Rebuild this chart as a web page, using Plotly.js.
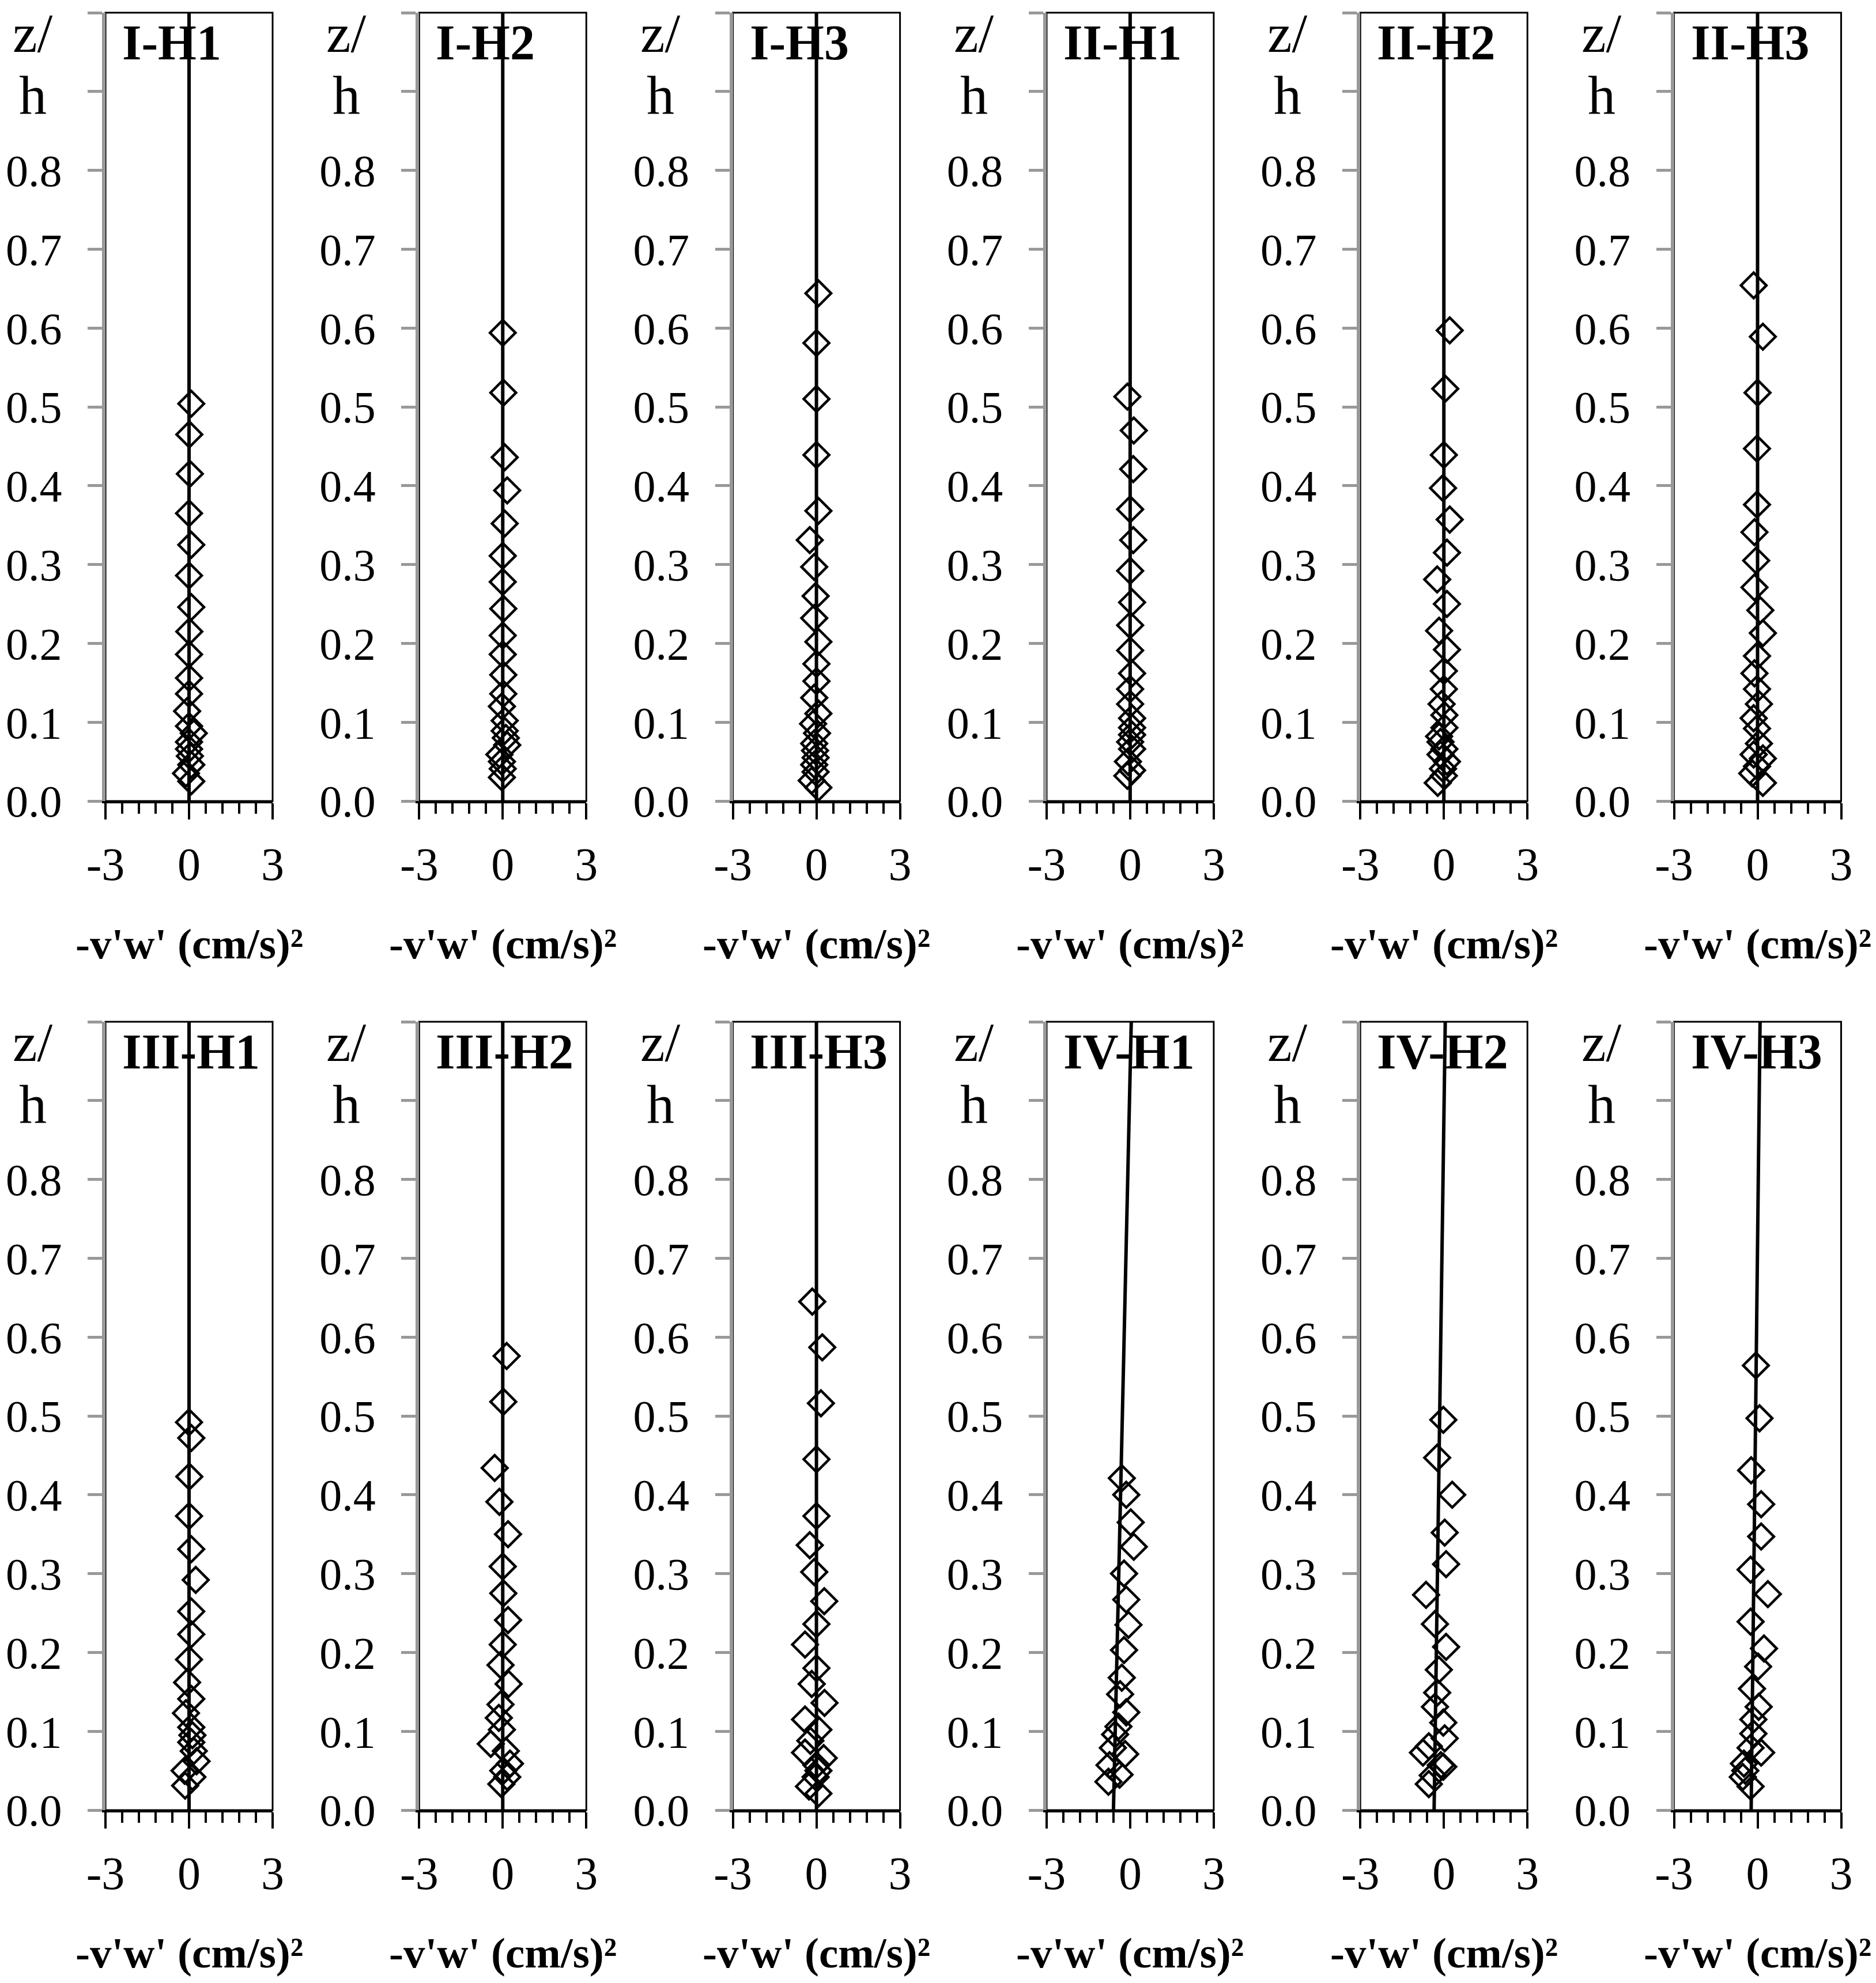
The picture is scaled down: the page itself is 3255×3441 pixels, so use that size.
<!DOCTYPE html>
<html><head><meta charset="utf-8">
<script src="https://cdn.plot.ly/plotly-3.0.1.min.js"></script>
<style>html,body{margin:0;padding:0;background:#fff}</style>
</head><body><div id="chart" style="width:3255px;height:3441px"></div>
<script>
// ---------- DATA (z/h values and -v'w' values) ----------
const panelNames = ['I-H1','I-H2','I-H3','II-H1','II-H2','II-H3','III-H1','III-H2','III-H3','IV-H1','IV-H2','IV-H3'];

const z_I_H1 = [0.504,0.465,0.415,0.365,0.325,0.286,0.246,0.215,0.186,0.156,0.136,0.114,0.095,0.086,0.075,0.066,0.057,0.046,0.035,0.025];
const v_I_H1 = [0.08,0.01,0.03,0.00,0.08,0.00,0.08,0.01,0.00,0.00,0.00,-0.07,0.00,0.17,0.00,0.00,0.03,0.08,-0.11,0.08];

const z_I_H2 = [0.594,0.518,0.436,0.394,0.352,0.311,0.278,0.244,0.210,0.186,0.160,0.136,0.120,0.102,0.089,0.080,0.071,0.059,0.050,0.041,0.030];
const v_I_H2 = [0.00,0.02,0.07,0.16,0.07,0.00,0.00,0.02,0.00,0.00,0.02,0.02,-0.03,0.07,0.07,0.11,0.16,-0.12,-0.03,0.00,-0.03];

const z_I_H3 = [0.644,0.581,0.510,0.439,0.368,0.331,0.297,0.260,0.232,0.202,0.174,0.152,0.131,0.111,0.098,0.086,0.073,0.064,0.055,0.046,0.037,0.026,0.017];
const v_I_H3 = [0.07,0.00,0.00,0.00,0.07,-0.24,-0.08,-0.03,-0.08,0.07,0.00,0.00,-0.08,0.07,-0.12,0.02,-0.08,-0.05,-0.03,-0.08,-0.03,-0.17,0.07];

const z_II_H1 = [0.513,0.470,0.421,0.370,0.331,0.292,0.252,0.223,0.191,0.162,0.142,0.123,0.105,0.093,0.084,0.075,0.066,0.050,0.039,0.032];
const v_II_H1 = [-0.10,0.13,0.11,0.00,0.11,0.00,0.07,0.00,0.00,0.07,0.00,0.00,0.07,0.07,0.07,0.00,0.07,-0.08,0.07,-0.10];

const z_II_H2 = [0.597,0.523,0.439,0.397,0.357,0.315,0.281,0.250,0.216,0.192,0.165,0.142,0.123,0.109,0.093,0.082,0.075,0.066,0.059,0.050,0.041,0.032,0.023];
const v_II_H2 = [0.21,0.05,0.00,-0.03,0.21,0.11,-0.24,0.11,-0.17,0.11,0.00,0.00,-0.08,0.02,0.02,-0.17,-0.12,0.02,-0.12,0.11,-0.03,0.00,-0.22];

const z_II_H3 = [0.654,0.589,0.518,0.447,0.376,0.341,0.305,0.271,0.242,0.213,0.184,0.162,0.142,0.123,0.105,0.092,0.073,0.059,0.054,0.044,0.035,0.023];
const v_II_H3 = [-0.14,0.19,0.00,-0.02,-0.02,-0.11,-0.05,-0.11,0.10,0.19,-0.02,-0.11,-0.02,0.05,-0.14,-0.02,0.05,-0.14,0.19,-0.02,-0.19,0.19];

const z_III_H1 = [0.492,0.472,0.423,0.373,0.331,0.292,0.252,0.223,0.191,0.162,0.141,0.123,0.105,0.095,0.086,0.075,0.062,0.050,0.042,0.031];
const v_III_H1 = [0.00,0.08,0.01,0.00,0.08,0.24,0.08,0.08,0.00,-0.07,0.08,-0.11,0.08,0.12,0.08,0.17,0.27,-0.16,0.12,-0.14];

const z_III_H2 = [0.576,0.518,0.434,0.391,0.350,0.309,0.275,0.241,0.210,0.184,0.160,0.134,0.117,0.102,0.084,0.075,0.059,0.050,0.042,0.033];
const v_III_H2 = [0.14,0.02,-0.29,-0.12,0.19,0.00,0.02,0.19,0.00,-0.08,0.21,-0.08,-0.14,-0.03,-0.43,0.11,0.26,0.02,0.16,-0.05];

const z_III_H3 = [0.645,0.587,0.516,0.445,0.373,0.336,0.302,0.265,0.236,0.210,0.180,0.160,0.136,0.115,0.102,0.088,0.073,0.066,0.057,0.050,0.042,0.030,0.021];
const v_III_H3 = [-0.15,0.21,0.16,0.00,0.00,-0.24,-0.08,0.28,0.00,-0.41,0.00,-0.17,0.29,-0.41,0.07,-0.22,-0.41,0.26,0.00,0.07,-0.03,-0.27,0.07];

const z_IV_H1 = [0.421,0.400,0.365,0.334,0.300,0.267,0.235,0.203,0.168,0.147,0.124,0.106,0.096,0.079,0.071,0.057,0.045,0.036];
const v_IV_H1 = [-0.30,-0.14,0.02,0.13,-0.22,-0.14,-0.06,-0.22,-0.30,-0.36,-0.14,-0.42,-0.54,-0.62,-0.18,-0.74,-0.38,-0.78];

const z_IV_H2 = [0.495,0.447,0.400,0.352,0.312,0.273,0.236,0.207,0.178,0.149,0.131,0.111,0.091,0.081,0.073,0.057,0.055,0.044,0.033];
const v_IV_H2 = [-0.02,-0.24,0.30,0.03,0.08,-0.64,-0.32,0.08,-0.18,-0.24,-0.32,-0.02,0.03,-0.54,-0.75,-0.11,-0.02,-0.40,-0.54];

const z_IV_H3 = [0.564,0.497,0.431,0.388,0.347,0.305,0.274,0.239,0.205,0.182,0.154,0.131,0.115,0.097,0.079,0.073,0.059,0.050,0.042,0.030];
const v_IV_H3 = [-0.06,0.07,-0.23,0.13,0.13,-0.25,0.37,-0.25,0.23,0.02,-0.20,0.04,-0.15,-0.15,-0.25,0.13,-0.49,-0.44,-0.53,-0.25];

// fitted trend lines: x values at z/h = 0 and z/h = 1
const fitZ = [0, 1];
const fit_I   = [0, 0];
const fit_II  = [0, 0];
const fit_III = [0, 0];
const fit_IV_H1 = [-0.60, 0.04];
const fit_IV_H2 = [-0.35, 0.05];
const fit_IV_H3 = [-0.23, 0.09];

// axis ticks / labels
const yTickVals = [0,0.1,0.2,0.3,0.4,0.5,0.6,0.7,0.8];
const yTickText = ['0.0','0.1','0.2','0.3','0.4','0.5','0.6','0.7','0.8'];
const xTickVals = [-3,0,3];
const xTickText = ['-3','0','3'];
const xTitle = "-v'w' (cm/s)\u00B2";
const yTitleTop = 'z/';
const yTitleBottom = 'h';

// ---------- BUILD ----------
const zs = [z_I_H1,z_I_H2,z_I_H3,z_II_H1,z_II_H2,z_II_H3,z_III_H1,z_III_H2,z_III_H3,z_IV_H1,z_IV_H2,z_IV_H3];
const vs = [v_I_H1,v_I_H2,v_I_H3,v_II_H1,v_II_H2,v_II_H3,v_III_H1,v_III_H2,v_III_H3,v_IV_H1,v_IV_H2,v_IV_H3];
const fits = [fit_I,fit_I,fit_I,fit_II,fit_II,fit_II,fit_III,fit_III,fit_III,fit_IV_H1,fit_IV_H2,fit_IV_H3];

const W = 3255, H = 3441;
const FONT = 'Liberation Serif, Times New Roman, serif';
const rows = [{top:22,bottom:1390},{top:1773,bottom:3141}];
const colLeft = k => 183 + 544.3*k;
const boxW = 290;

const data = [];
const layout = {
  width: W, height: H,
  margin: {l:0,r:0,t:0,b:0,pad:0},
  paper_bgcolor: '#ffffff', plot_bgcolor: '#ffffff',
  showlegend: false,
  font: {family: FONT, color: '#000', size: 80},
  annotations: [], shapes: []
};

for (let i = 0; i < 12; i++) {
  const r = Math.floor(i/6), c = i % 6;
  const suf = i === 0 ? '' : String(i+1);
  const xl = colLeft(c), xr = xl + boxW;
  const row = rows[r];
  layout['xaxis'+suf] = {
    domain: [xl/W, xr/W], anchor: 'y'+suf, range: [-3,3],
    showgrid: false, zeroline: false,
    showline: true, linecolor: '#000', linewidth: 4,
    ticks: 'outside', ticklen: 28, tickwidth: 4, tickcolor: '#000',
    tickmode: 'array', tickvals: xTickVals, ticktext: xTickText,
    ticklabelstandoff: 9,
    tickfont: {family: FONT, size: 80, color: '#000'},
    minor: {ticks: 'outside', ticklen: 18, tickwidth: 4, tickcolor: '#000', tick0: -3, dtick: 0.6, showgrid: false},
    fixedrange: true
  };
  layout['yaxis'+suf] = {
    domain: [1 - row.bottom/H, 1 - row.top/H], anchor: 'x'+suf, range: [0,1],
    showgrid: false, zeroline: false,
    showline: true, linecolor: '#999999', linewidth: 6,
    ticks: 'outside', ticklen: 25, tickwidth: 5, tickcolor: '#999999',
    tickmode: 'array', tickvals: yTickVals, ticktext: yTickText,
    ticklabelstandoff: 29,
    tickfont: {family: FONT, size: 78, color: '#000'},
    minor: {ticks: 'outside', ticklen: 25, tickwidth: 5, tickcolor: '#999999', tick0: 0, dtick: 0.1, showgrid: false},
    fixedrange: true
  };
  layout.shapes.push({
    type: 'rect', xref: 'x'+suf+' domain', yref: 'y'+suf+' domain',
    x0: 0, x1: 1, y0: 0, y1: 1, line: {color: '#000', width: 3}, layer: 'below'
  });
  data.push({
    type: 'scatter', mode: 'markers', x: vs[i], y: zs[i],
    xaxis: 'x'+suf, yaxis: 'y'+suf, cliponaxis: false,
    marker: {symbol: 'diamond-open', size: 34, color: '#000', line: {color: '#000', width: 4.5}}
  });
  data.push({
    type: 'scatter', mode: 'lines', x: fits[i], y: fitZ,
    xaxis: 'x'+suf, yaxis: 'y'+suf,
    line: {color: '#000', width: 6}
  });
  // panel title
  layout.annotations.push({
    text: panelNames[i], showarrow: false,
    xref: 'x'+suf+' domain', yref: 'y'+suf+' domain',
    x: 27/boxW, xanchor: 'left', y: 1, yanchor: 'top', yshift: -2,
    font: {family: FONT, size: 86, color: '#000', weight: 'bold'}
  });
  // y title z/ h
  layout.annotations.push({
    text: yTitleTop, showarrow: false,
    xref: 'x'+suf+' domain', yref: 'y'+suf+' domain',
    x: -126/boxW, xanchor: 'center', y: 1, yanchor: 'top', yshift: 20,
    font: {family: FONT, size: 96, color: '#000'}
  });
  layout.annotations.push({
    text: yTitleBottom, showarrow: false,
    xref: 'x'+suf+' domain', yref: 'y'+suf+' domain',
    x: -126/boxW, xanchor: 'center', y: 1, yanchor: 'top', yshift: -88,
    font: {family: FONT, size: 96, color: '#000'}
  });
  // x title
  layout.annotations.push({
    text: xTitle, showarrow: false,
    xref: 'x'+suf+' domain', yref: 'y'+suf+' domain',
    x: 0.5, xanchor: 'center', y: 0, yanchor: 'bottom', yshift: -291,
    font: {family: FONT, size: 75, color: '#000', weight: 'bold'}
  });
}

Plotly.newPlot('chart', data, layout, {displayModeBar: false, staticPlot: true});
</script></body></html>
